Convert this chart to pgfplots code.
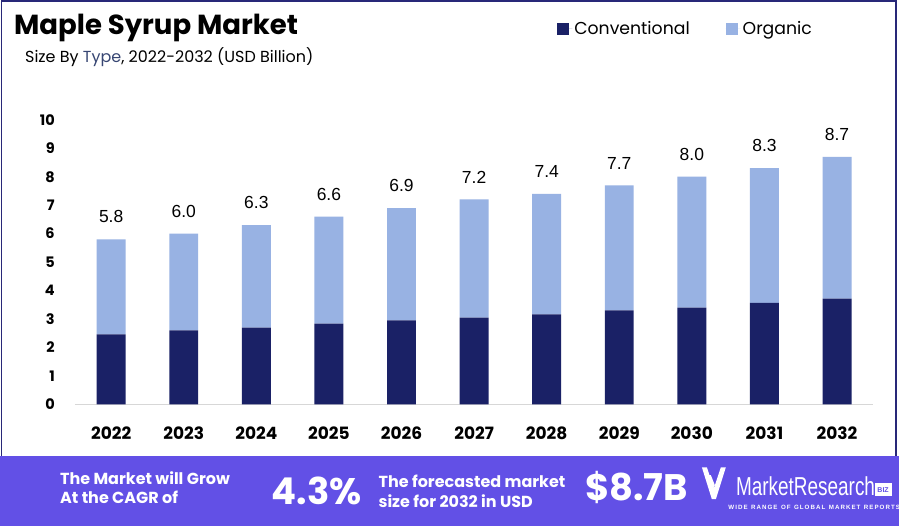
\documentclass[border=0pt]{standalone}
\usepackage{fontspec}
\setmainfont{Poppins}
\newfontfamily\lib{Liberation Sans}
\newfontfamily\libc[FakeStretch=0.73]{Liberation Sans}
\usepackage{pgfplots}
\pgfplotsset{compat=1.18}
\usepackage{pgfplotstable}
\definecolor{conv}{RGB}{26,33,102}
\definecolor{org}{RGB}{152,178,227}
\definecolor{banner}{RGB}{98,80,230}
\definecolor{bordercol}{RGB}{40,40,120}
\definecolor{typecol}{RGB}{55,70,115}
\definecolor{basecol}{RGB}{215,215,215}
\pgfplotstableread{
x conv org total
0 2.46 3.34 5.8
1 2.60 3.40 6.0
2 2.70 3.60 6.3
3 2.84 3.76 6.6
4 2.95 3.95 6.9
5 3.05 4.15 7.2
6 3.16 4.24 7.4
7 3.30 4.40 7.7
8 3.40 4.60 8.0
9 3.57 4.73 8.3
10 3.72 4.98 8.7
}\data
\pgfplotsset{commonax/.style={
  at={(75pt,-405pt)}, anchor=south west,
  x=72.7pt, y=28.5pt,
  xmin=-0.5, xmax=10.5, ymin=0, ymax=10.5, clip=false}}
\begin{document}
\begin{tikzpicture}[x=1pt,y=1pt]
\fill[white] (0,0) rectangle (900,-527);
\draw[bordercol,line width=1.5pt] (1.5,-1) rectangle (897.5,-458);
\fill[banner] (0,-457) rectangle (900,-527);
\node[anchor=base west, font=\bfseries\fontsize{27.6}{30}\selectfont, inner sep=0pt] at (14,-35) {Maple Syrup Market};
\node[anchor=base west, font=\fontsize{16}{20}\selectfont, inner sep=0pt] at (25,-63) {Size By \textcolor{typecol}{Type}, 2022-2032 (USD Billion)};
\begin{axis}[
  commonax,
  ybar stacked, bar width=29pt,
  axis line style={draw=none}, tick style={draw=none},
  xtick={0,1,2,3,4,5,6,7,8,9,10},
  xticklabels={2022,2023,2024,2025,2026,2027,2028,2029,2030,2031,2032},
  ytick={0,1,2,3,4,5,6,7,8,9,10},
  /pgf/number format/assume math mode=true,
  yticklabel style={anchor=east, inner sep=0pt, xshift=-20pt, font=\bfseries\fontsize{14.5}{14.5}\selectfont},
  xticklabel style={anchor=north, inner sep=0pt, yshift=-22.5pt, font=\bfseries\fontsize{17}{17}\selectfont},
  legend style={at={(0.604,1.2565)}, anchor=west, draw=none, fill=none, inner sep=0pt,
    font=\fontsize{17.3}{17.3}\selectfont,
    /tikz/every even column/.append style={column sep=34pt}},
  legend columns=2,
  legend image code/.code={\fill[#1] (0pt,-6pt) rectangle (12pt,6pt); \path (0pt,0pt) -- (15pt,0pt);},
]
\addplot[fill=conv, draw=none] table[x=x,y=conv]{\data};
\addplot[fill=org, draw=none] table[x=x,y=org]{\data};
\legend{Conventional,Organic}
\draw[basecol, line width=1pt] (axis cs:-0.5,0) -- (axis cs:10.5,0);
\end{axis}
\begin{axis}[commonax, hide axis]
\addplot[draw=none, mark=none, nodes near coords, point meta=explicit symbolic,
  nodes near coords style={font=\lib\fontsize{17.5}{17.5}\selectfont, inner sep=0pt, anchor=south, yshift=16pt, text=black}]
  table[x=x,y=total,meta=total]{\data};
\end{axis}
% banner
\node[anchor=base west, font=\bfseries\fontsize{16}{16}\selectfont, text=white, inner sep=0pt] at (60,-485) {The Market will Grow};
\node[anchor=base west, font=\bfseries\fontsize{16}{16}\selectfont, text=white, inner sep=0pt] at (60,-504.3) {At the CAGR of};
\node[anchor=base west, font=\bfseries\fontsize{37}{37}\selectfont, text=white, inner sep=0pt] at (272,-505) {4.3\%};
\node[anchor=base west, font=\bfseries\fontsize{16}{16}\selectfont, text=white, inner sep=0pt] at (379,-488.3) {The forecasted market};
\node[anchor=base west, font=\bfseries\fontsize{16}{16}\selectfont, text=white, inner sep=0pt] at (379,-508.3) {size for 2032 in USD};
\node[anchor=base west, font=\bfseries\fontsize{37}{37}\selectfont, text=white, inner sep=0pt] at (586,-501.7) {\$8.7B};
% logo
\fill[white] (703,-468) -- (708,-468) -- (715,-489) -- (722,-468) -- (727,-468) -- (717,-500) -- (713,-500) -- cycle;
\fill[white] (709,-476) -- (712,-476) -- (716,-486) -- (714,-490) -- cycle;
\node[anchor=base west, font=\libc\fontsize{26}{26}\selectfont, text=white, inner sep=0pt] at (737,-496.7) {MarketResearch};
\fill[white] (876,-484) rectangle (893,-497);
\node[font=\lib\bfseries\fontsize{7}{7}\selectfont, text=banner, inner sep=0pt] at (884.5,-490.5) {BIZ};
\node[anchor=center, font=\lib\bfseries\fontsize{6.2}{6.2}\selectfont, text=white, inner sep=0pt] at (815.5,-508) {W\,I\,D\,E\ \ R\,A\,N\,G\,E\ \ O\,F\ \ G\,L\,O\,B\,A\,L\ \ M\,A\,R\,K\,E\,T\ \ R\,E\,P\,O\,R\,T\,S};
\end{tikzpicture}
\end{document}
